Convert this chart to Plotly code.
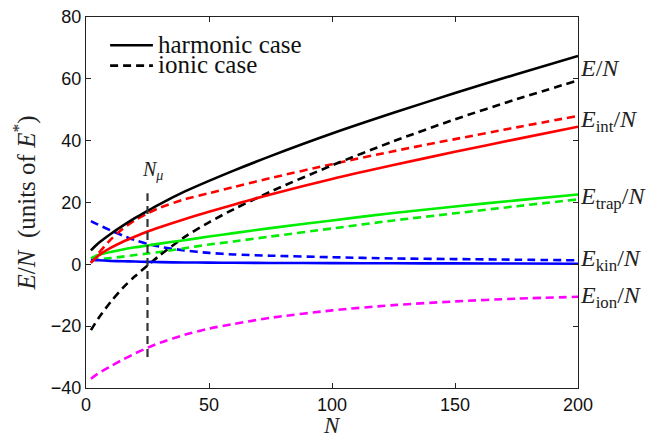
import plotly.graph_objects as go

N = [2, 5, 10, 15, 20, 25, 30, 40, 50, 60, 75, 100, 125, 150, 175, 200]

# harmonic case (solid)
E_harm = [4.5, 6.8, 9.8, 12.5, 15.0, 17.3, 19.5, 23.5, 27.0, 30.3, 35.0, 42.3, 49.0, 55.4, 61.5, 67.4]
Eint_harm = [0.5, 2.8, 5.3, 7.3, 9.0, 10.6, 12.0, 14.6, 17.0, 19.3, 22.6, 27.6, 32.1, 36.4, 40.5, 44.5]
Etrap_harm = [2.0, 3.0, 4.0, 4.8, 5.5, 6.1, 6.7, 7.8, 9.0, 10.1, 11.7, 14.2, 16.6, 18.7, 20.7, 22.6]
Ekin_harm = [1.5, 1.3, 1.1, 1.0, 0.9, 0.8, 0.7, 0.6, 0.55, 0.5, 0.45, 0.4, 0.35, 0.3, 0.25, 0.2]

# ionic case (dashed)
E_ion_total = [-21.3, -17.5, -12.2, -7.6, -3.8, -0.4, 2.9, 8.8, 13.6, 17.8, 23.5, 32.0, 39.8, 46.9, 53.4, 59.5]
Eint_ion = [0.5, 3.5, 8.0, 11.5, 14.3, 16.5, 18.3, 21.0, 23.0, 25.0, 27.9, 32.4, 36.6, 40.5, 44.3, 48.0]
Etrap_ion = [1.5, 1.7, 2.0, 2.5, 3.0, 3.5, 4.0, 5.2, 6.4, 7.4, 9.0, 11.6, 14.2, 16.5, 18.8, 21.0]
Ekin_ion = [14.0, 12.8, 11.0, 9.3, 7.8, 6.6, 5.7, 4.5, 3.7, 3.2, 2.8, 2.3, 1.9, 1.7, 1.5, 1.3]
Eion_ion = [-37.0, -35.3, -33.0, -30.8, -28.8, -27.0, -25.4, -22.8, -20.8, -19.3, -17.3, -14.9, -13.2, -12.0, -11.1, -10.5]

N_mu = 25
N_mu_range = [-30, 23]

legend_names = ["harmonic case", "ionic case"]

right_labels = ["<i>E</i>/<i>N</i>", "<i>E</i><sub>int</sub>/<i>N</i>", "<i>E</i><sub>trap</sub>/<i>N</i>",
                "<i>E</i><sub>kin</sub>/<i>N</i>", "<i>E</i><sub>ion</sub>/<i>N</i>"]
right_label_y = [63.5, 46.5, 21.5, 1.3, -10.5]

x_ticks = [0, 50, 100, 150, 200]
y_ticks = [-40, -20, 0, 20, 40, 60, 80]
y_tick_text = ["−40", "−20", "0", "20", "40", "60", "80"]

SERIF = "Liberation Serif, DejaVu Serif, serif"
DASH = "8px,5px"
LW = 2.6

fig = go.Figure()

def add(y, color, dash):
    fig.add_trace(go.Scatter(x=N, y=y, mode="lines",
                             line=dict(color=color, width=LW, dash=dash, shape="spline", smoothing=0.8),
                             showlegend=False, hoverinfo="skip"))

# dashed (ionic) first
add(Eion_ion, "#ff00ff", DASH)
add(Ekin_ion, "#0000ff", DASH)
add(Etrap_ion, "#00ee00", DASH)
add(Eint_ion, "#ff0000", DASH)
add(E_ion_total, "#000000", DASH)
# solid (harmonic)
add(Ekin_harm, "#0000ff", "solid")
add(Etrap_harm, "#00ee00", "solid")
add(Eint_harm, "#ff0000", "solid")
add(E_harm, "#000000", "solid")

# N_mu line
fig.add_trace(go.Scatter(x=[N_mu, N_mu], y=N_mu_range, mode="lines",
                         line=dict(color="#333333", width=2.2, dash=DASH),
                         showlegend=False, hoverinfo="skip"))

# legend (drawn in paper coordinates, tight MATLAB-like rows)
leg_rows = [0.924, 0.869]
leg_dash = ["solid", "8px,5px"]
for name, yy, dsh in zip(legend_names, leg_rows, leg_dash):
    fig.add_shape(type="line", xref="paper", yref="paper", x0=0.049, x1=0.136, y0=yy, y1=yy,
                  line=dict(color="black", width=LW, dash=dsh))
    fig.add_annotation(x=0.142, y=yy, xref="paper", yref="paper", text=name, showarrow=False,
                       xanchor="left", yanchor="middle", yshift=1,
                       font=dict(family=SERIF, size=25, color="#111"))

fig.add_annotation(x=N_mu, y=30.5, xref="x", yref="y", text="<i>N</i><sub><i>μ</i></sub>", showarrow=False,
                   xshift=5, font=dict(family=SERIF, size=20, color="#222"))

for t, yv in zip(right_labels, right_label_y):
    fig.add_annotation(x=1.0, xref="paper", y=yv, yref="y", text=t, showarrow=False, xanchor="left",
                       font=dict(family=SERIF, size=24, color="#222"))

# x-axis title placed just under the tick labels
fig.add_annotation(x=0.5, y=-0.1, xref="paper", yref="paper", text="<i>N</i>", showarrow=False,
                   xanchor="center", yanchor="middle", font=dict(family=SERIF, size=23, color="#222"))

axis_common = dict(showline=True, linecolor="#222", linewidth=1.2, mirror="ticks", ticks="inside", ticklen=5,
                   tickcolor="#222", showgrid=False, zeroline=False, automargin=False,
                   ticklabeloverflow="allow",
                   tickfont=dict(family="Liberation Sans, Arial, sans-serif", size=18, color="#111"))

fig.update_layout(
    width=663, height=435,
    margin=dict(l=78, r=93, t=9, b=55, autoexpand=False),
    paper_bgcolor="white", plot_bgcolor="white",
    showlegend=False,
    xaxis=dict(range=[0, 200], tickvals=x_ticks, **axis_common),
    yaxis=dict(range=[-40, 80], tickvals=y_ticks, ticktext=y_tick_text,
               title=dict(text="<i>E</i>/<i>N</i>  (units of <i>E</i><sup>*</sup>)",
                          font=dict(family=SERIF, size=25, color="#222"), standoff=10),
               **axis_common),
)

fig.write_html("out.html")
